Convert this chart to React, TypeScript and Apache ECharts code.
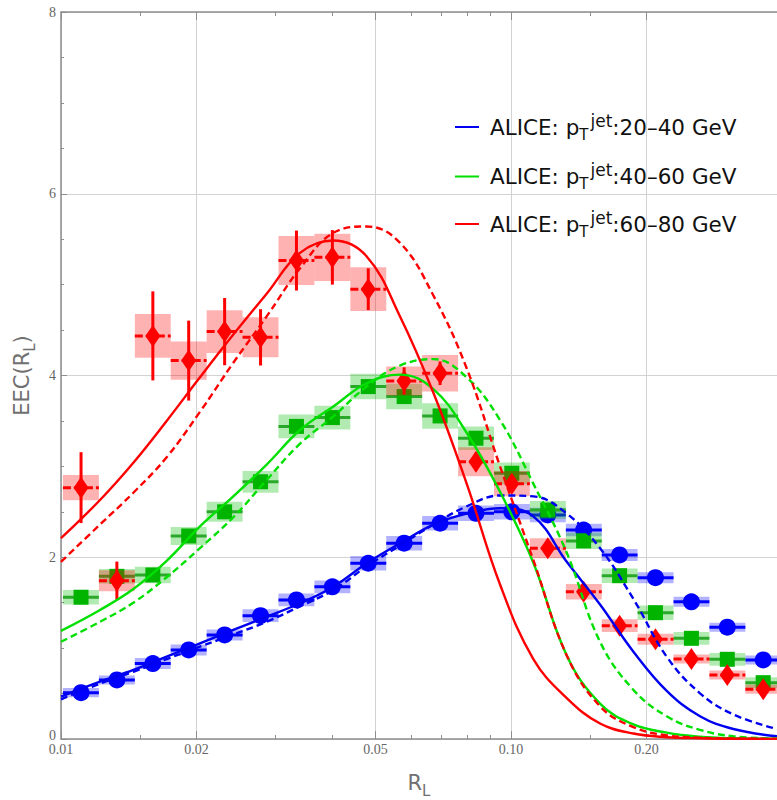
import React, { useEffect, useRef } from "react";
import * as echarts from "echarts";

// ---- data ----
const binEdges = [0.0101, 0.01214, 0.01459, 0.01753, 0.02107, 0.02532, 0.03043, 0.03657, 0.04395, 0.05281, 0.06347, 0.07627, 0.09166, 0.1101, 0.1324, 0.1591, 0.1911, 0.2297, 0.276, 0.3317, 0.3986];
const binCenters = [0.01108, 0.01331, 0.016, 0.01922, 0.0231, 0.02776, 0.03336, 0.04009, 0.04817, 0.05788, 0.06956, 0.08358, 0.1004, 0.1207, 0.145, 0.1743, 0.2094, 0.2517, 0.3024, 0.3634];

const blueVals = [0.51, 0.65, 0.83, 0.98, 1.145, 1.357, 1.53, 1.675, 1.934, 2.155, 2.374, 2.484, 2.5, 2.466, 2.3, 2.025, 1.775, 1.51, 1.23, 0.87];
const blueSys = [0.05, 0.05, 0.06, 0.06, 0.06, 0.07, 0.07, 0.07, 0.08, 0.08, 0.08, 0.085, 0.085, 0.08, 0.07, 0.065, 0.06, 0.055, 0.05, 0.05];
const blueStat = [0.02, 0.02, 0.02, 0.02, 0.02, 0.02, 0.02, 0.02, 0.02, 0.02, 0.02, 0.02, 0.02, 0.02, 0.02, 0.02, 0.02, 0.02, 0.02, 0.02];

const greenVals = [1.56, 1.79, 1.805, 2.234, 2.5, 2.83, 3.44, 3.537, 3.878, 3.768, 3.555, 3.31, 2.924, 2.52, 2.18, 1.797, 1.39, 1.108, 0.877, 0.62];
const greenSys = [0.08, 0.08, 0.09, 0.1, 0.11, 0.12, 0.13, 0.13, 0.14, 0.14, 0.14, 0.13, 0.12, 0.1, 0.09, 0.08, 0.08, 0.07, 0.07, 0.06];
const greenStat = [0.04, 0.04, 0.04, 0.04, 0.04, 0.04, 0.04, 0.04, 0.04, 0.04, 0.04, 0.04, 0.04, 0.04, 0.04, 0.03, 0.03, 0.03, 0.03, 0.03];

const redVals = [2.766, 1.742, 4.436, 4.164, 4.483, 4.42, 5.265, 5.3, 4.95, 3.94, 4.025, 3.05, 2.81, 2.1, 1.62, 1.247, 1.097, 0.88, 0.704, 0.547];
const redSys = [0.14, 0.115, 0.24, 0.21, 0.235, 0.22, 0.27, 0.26, 0.24, 0.16, 0.2, 0.16, 0.14, 0.11, 0.085, 0.07, 0.06, 0.05, 0.05, 0.05];
const redStat = [0.39, 0.21, 0.49, 0.44, 0.37, 0.31, 0.33, 0.3, 0.23, 0.15, 0.13, 0.1, 0.08, 0.06, 0.05, 0.04, 0.03, 0.03, 0.03, 0.03];

const curveX = [0.01, 0.01221, 0.01448, 0.01717, 0.02036, 0.02415, 0.02864, 0.03398, 0.0403, 0.04779, 0.05667, 0.06722, 0.0797, 0.09454, 0.1121, 0.133, 0.1577, 0.1871, 0.2218, 0.263, 0.3119, 0.39];
const redSolid = [2.21, 2.63, 3.04, 3.5, 3.98, 4.45, 4.9, 5.35, 5.485, 5.31, 4.65, 3.81, 2.81, 1.7, 0.88, 0.45, 0.17, 0.06, 0.02, 0.008, 0.003, 0.001];
const redDashed = [1.95, 2.36, 2.71, 3.1, 3.6, 4.14, 4.65, 5.18, 5.57, 5.64, 5.46, 4.88, 4.08, 3.0, 1.97, 0.92, 0.36, 0.13, 0.04, 0.015, 0.005, 0.001];
const greenSolid = [1.19, 1.42, 1.65, 1.96, 2.34, 2.67, 3.02, 3.4, 3.66, 3.915, 4.01, 3.85, 3.37, 2.72, 1.94, 0.92, 0.39, 0.16, 0.07, 0.025, 0.008, 0.002];
const greenDashed = [1.07, 1.29, 1.5, 1.78, 2.1, 2.44, 2.85, 3.25, 3.55, 3.88, 4.11, 4.18, 3.98, 3.51, 2.81, 2.05, 1.07, 0.54, 0.25, 0.1, 0.03, 0.005];
const blueSolid = [0.466, 0.63, 0.76, 0.906, 1.053, 1.2, 1.346, 1.494, 1.676, 1.934, 2.154, 2.36, 2.48, 2.54, 2.45, 1.95, 1.48, 0.96, 0.53, 0.25, 0.11, 0.03];
const blueDashed = [0.437, 0.61, 0.74, 0.88, 1.016, 1.15, 1.29, 1.46, 1.64, 1.9, 2.13, 2.36, 2.56, 2.68, 2.67, 2.48, 2.1, 1.54, 0.906, 0.503, 0.27, 0.11];

const xMajorTicks = [0.01, 0.02, 0.05, 0.1, 0.2];
const xMajorLabels = ["0.01", "0.02", "0.05", "0.10", "0.20"];
const xMinorTicks = [0.015, 0.03, 0.04, 0.06, 0.07, 0.08, 0.09, 0.15];
const legendLabels = ["20–40 GeV", "40–60 GeV", "60–80 GeV"];

const BLUE = "#0000f0";
const GREEN = "#00e000";
const RED = "#ff0000";

type Opts = { box: string; bar: string; marker: string; shape: "circle" | "square" | "diamond"; dash?: number[] };

function dataSeries(name: string, vals: number[], sys: number[], stat: number[], o: Opts, z: number) {
  const data = binCenters.map((c, i) => [c, vals[i], binEdges[i], binEdges[i + 1], sys[i], stat[i]]);
  return {
    type: "custom",
    name,
    xAxisIndex: 0,
    yAxisIndex: 0,
    z,
    clip: false,
    data,
    renderItem: (_p: any, api: any) => {
      const x = api.value(0), y = api.value(1), lo = api.value(2), hi = api.value(3), s = api.value(4), st = api.value(5);
      const c = api.coord([x, y]);
      const a = api.coord([lo, y + s]);
      const b = api.coord([hi, y - s]);
      const l = api.coord([lo, y]);
      const r = api.coord([hi, y]);
      const t = api.coord([x, y + st]);
      const bt = api.coord([x, y - st]);
      let marker: any;
      if (o.shape === "circle") {
        marker = { type: "circle", shape: { cx: c[0], cy: c[1], r: 8.5 }, style: { fill: o.marker } };
      } else if (o.shape === "square") {
        marker = { type: "rect", shape: { x: c[0] - 7.5, y: c[1] - 7.5, width: 15, height: 15 }, style: { fill: o.marker } };
      } else {
        marker = {
          type: "polygon",
          shape: { points: [[c[0], c[1] - 11], [c[0] + 7.5, c[1]], [c[0], c[1] + 11], [c[0] - 7.5, c[1]]] },
          style: { fill: o.marker },
        };
      }
      return {
        type: "group",
        children: [
          { type: "rect", shape: { x: a[0], y: a[1], width: b[0] - a[0], height: b[1] - a[1] }, style: { fill: o.box } },
          { type: "line", shape: { x1: l[0], y1: l[1], x2: r[0], y2: r[1] }, style: { stroke: o.bar, lineWidth: 3, lineDash: o.dash } },
          { type: "line", shape: { x1: t[0], y1: t[1], x2: bt[0], y2: bt[1] }, style: { stroke: o.bar, lineWidth: 3 } },
          marker,
        ],
      };
    },
  };
}

function curve(vals: number[], color: string, dashed: boolean) {
  return {
    type: "line",
    xAxisIndex: 0,
    yAxisIndex: 0,
    data: curveX.map((x, i) => [x, vals[i]]),
    smooth: 0.4,
    showSymbol: false,
    silent: true,
    z: 5,
    lineStyle: { color, width: 2.4, type: dashed ? [7, 4] : "solid" },
  };
}

const AXIS_COLOR = "#8e8e8e";
const LABEL_FONT = "'Liberation Serif', 'DejaVu Serif', serif";
const TITLE_FONT = "'DejaVu Sans', Verdana, sans-serif";

function xAxisDef(position: "top" | "bottom", major: boolean, showLine: boolean, showLabel: boolean) {
  return {
    type: "log",
    logBase: 10,
    min: 0.01,
    max: 0.39,
    position,
    gridIndex: 0,
    axisLine: { show: showLine, lineStyle: { color: AXIS_COLOR, width: 1.5 } },
    axisTick: {
      show: true,
      inside: true,
      length: major ? 8 : 4,
      customValues: major ? xMajorTicks : xMinorTicks,
      lineStyle: { color: AXIS_COLOR, width: 1 },
    },
    axisLabel: showLabel
      ? {
          show: true,
          customValues: xMajorTicks,
          margin: 3,
          color: "#666",
          fontSize: 14,
          fontFamily: LABEL_FONT,
          formatter: (v: number) => {
            const i = xMajorTicks.findIndex((t) => Math.abs(t - v) / t < 1e-6);
            return i >= 0 ? xMajorLabels[i] : "";
          },
        }
      : { show: false },
    splitLine: showLabel ? { show: true, lineStyle: { color: "#d2d2d2", width: 1 } } : { show: false },
    minorTick: { show: false },
    minorSplitLine: { show: false },
    name: showLabel ? "{a|R}{s|L}" : "",
    nameLocation: "middle",
    nameGap: 29,
    nameTextStyle: {
      rich: {
        a: { fontSize: 21, fontFamily: TITLE_FONT, color: "#707070", lineHeight: 30, verticalAlign: "middle" },
        s: { fontSize: 15, fontFamily: TITLE_FONT, color: "#707070", lineHeight: 16, verticalAlign: "bottom" },
      },
    },
  };
}

function legendGraphic() {
  const ys = [127, 176.5, 224];
  const colors = [BLUE, GREEN, RED];
  const els: any[] = [];
  ys.forEach((y, i) => {
    els.push({
      type: "line",
      shape: { x1: 455, y1: y, x2: 479, y2: y },
      style: { stroke: colors[i], lineWidth: 2 },
      z: 10,
    });
    els.push({
      type: "text",
      x: 490,
      y: y,
      z: 10,
      style: {
        text: `{a|ALICE: p}{b|T}{c|jet}{a|:${legendLabels[i]}}`,
        verticalAlign: "middle",
        align: "left",
        rich: {
          a: { fontSize: 21.5, fontFamily: TITLE_FONT, fill: "#111", lineHeight: 30, verticalAlign: "middle" },
          b: { fontSize: 15, fontFamily: TITLE_FONT, fill: "#111", lineHeight: 15, verticalAlign: "bottom" },
          c: { fontSize: 17, fontFamily: TITLE_FONT, fill: "#111", lineHeight: 26, verticalAlign: "top", padding: [0, 0, 0, 2] },
        },
      },
    });
  });
  return els;
}

export default function App() {
  const ref = useRef<HTMLDivElement>(null);
  useEffect(() => {
    if (!ref.current) return;
    const chart = echarts.init(ref.current, undefined, { renderer: "svg" });
    chart.setOption({
      animation: false,
      backgroundColor: "#ffffff",
      grid: { left: 61, right: 0, top: 12, bottom: 61, containLabel: false, outerBoundsMode: "none" },
      xAxis: [
        xAxisDef("bottom", true, true, true),
        xAxisDef("bottom", false, false, false),
        xAxisDef("top", true, true, false),
        xAxisDef("top", false, false, false),
      ],
      yAxis: {
        type: "value",
        min: 0,
        max: 8,
        interval: 2,
        axisLine: { show: true, lineStyle: { color: AXIS_COLOR, width: 1.5 } },
        axisTick: { show: true, inside: true, length: 6, lineStyle: { color: AXIS_COLOR } },
        minorTick: { show: true, splitNumber: 4, length: 3, lineStyle: { color: AXIS_COLOR } },
        axisLabel: {
          color: "#666",
          fontSize: 14,
          fontFamily: LABEL_FONT,
          margin: 5,
          formatter: (v: number) => (v === 0 ? "{z|0}" : String(v)),
          rich: { z: { color: "#666", fontSize: 14, fontFamily: LABEL_FONT, padding: [0, 0, 8, 0] } },
        },
        splitLine: { show: true, lineStyle: { color: "#d2d2d2", width: 1 } },
        name: "{a|EEC(R}{s|L}{a|)}",
        nameLocation: "middle",
        nameGap: 24,
        nameRotate: 90,
        nameTextStyle: {
          rich: {
            a: { fontSize: 21, fontFamily: TITLE_FONT, color: "#707070", lineHeight: 30, verticalAlign: "middle" },
            s: { fontSize: 15, fontFamily: TITLE_FONT, color: "#707070", lineHeight: 16, verticalAlign: "bottom" },
          },
        },
      },
      graphic: legendGraphic(),
      series: [
        dataSeries("blue", blueVals, blueSys, blueStat, { box: "rgba(0,0,255,0.3)", bar: "#0000ff", marker: "#0000ff", shape: "circle" }, 2),
        dataSeries("green", greenVals, greenSys, greenStat, { box: "rgba(0,190,0,0.3)", bar: "#2aa82a", marker: "#00b400", shape: "square" }, 3),
        dataSeries("red", redVals, redSys, redStat, { box: "rgba(255,0,0,0.3)", bar: "#ff0000", marker: "#ff0000", shape: "diamond", dash: [8, 3] }, 4),
        curve(blueSolid, BLUE, false),
        curve(blueDashed, BLUE, true),
        curve(greenSolid, GREEN, false),
        curve(greenDashed, GREEN, true),
        curve(redSolid, RED, false),
        curve(redDashed, RED, true),
      ],
    });
    return () => chart.dispose();
  }, []);
  return <div ref={ref} style={{ position: "absolute", left: 0, top: 0, width: 777, height: 800 }} />;
}
